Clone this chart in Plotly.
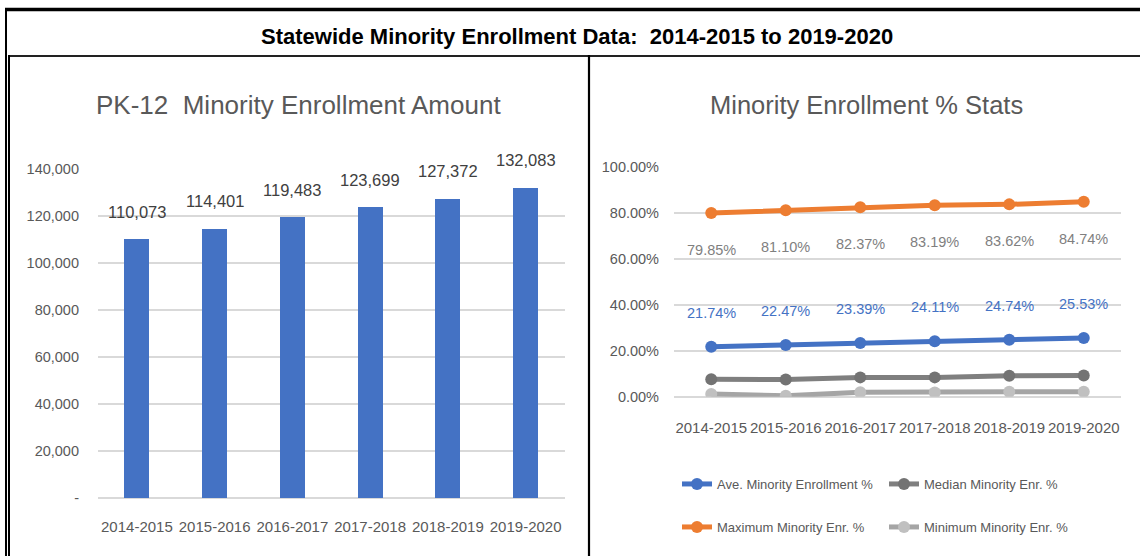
import plotly.graph_objects as go

W, H = 1140, 556

years = ["2014-2015", "2015-2016", "2016-2017", "2017-2018", "2018-2019", "2019-2020"]
enrollment = [110073, 114401, 119483, 123699, 127372, 132083]
enroll_tickvals = [0, 20000, 40000, 60000, 80000, 100000, 120000, 140000]
enroll_ticktext = ["-", "20,000", "40,000", "60,000", "80,000", "100,000", "120,000", "140,000"]

avg_pct = [21.74, 22.47, 23.39, 24.11, 24.74, 25.53]
median_pct = [7.6, 7.5, 8.4, 8.4, 9.1, 9.2]
max_pct = [79.85, 81.10, 82.37, 83.19, 83.62, 84.74]
min_pct = [1.2, 0.4, 1.9, 1.8, 2.2, 2.2]
pct_tickvals = [0, 20, 40, 60, 80, 100]
pct_ticktext = ["0.00%", "20.00%", "40.00%", "60.00%", "80.00%", "100.00%"]

main_title = "Statewide Minority Enrollment Data:\u00a0 2014-2015 to 2019-2020"
left_title = "PK-12\u00a0 Minority Enrollment Amount"
right_title = "Minority Enrollment % Stats"

FONT = "Liberation Sans, Arial, sans-serif"
GRAY = "#595959"


def px(x):
    return x / W


def py(y):
    return 1 - y / H


fig = go.Figure()

fig.add_trace(go.Bar(
    x=years, y=enrollment, xaxis="x", yaxis="y",
    marker=dict(color="#4472C4", line=dict(width=0)), width=0.32,
    showlegend=False, hoverinfo="x+y",
))

series = [
    ("Ave. Minority Enrollment %", avg_pct, "#4472C4", "#4472C4", "legend"),
    ("Median Minority Enr. %", median_pct, "#7F7F7F", "#737373", "legend2"),
    ("Maximum Minority Enr. %", max_pct, "#ED7D31", "#ED7D31", "legend3"),
    ("Minimum Minority Enr. %", min_pct, "#A5A5A5", "#C0C0C0", "legend4"),
]
for name, vals, lc, mc, lg in series:
    fig.add_trace(go.Scatter(
        x=years, y=vals, xaxis="x2", yaxis="y2", name=name,
        mode="lines+markers",
        line=dict(color=lc, width=5),
        marker=dict(color=mc, size=12),
        legend=lg,
    ))

annotations = []
for x, v in zip(years, enrollment):
    annotations.append(dict(
        x=x, y=v, xref="x", yref="y", text=f"{v:,}", showarrow=False,
        yanchor="middle", yshift=28,
        font=dict(family=FONT, size=16.5, color="#404040"),
    ))
for x, v in zip(years, max_pct):
    annotations.append(dict(
        x=x, y=v, xref="x2", yref="y2", text=f"{v:.2f}%", showarrow=False,
        yanchor="middle", yshift=-37,
        font=dict(family=FONT, size=14.5, color="#7F7F7F"),
    ))
for x, v in zip(years, avg_pct):
    annotations.append(dict(
        x=x, y=v, xref="x2", yref="y2", text=f"{v:.2f}%", showarrow=False,
        yanchor="middle", yshift=34,
        font=dict(family=FONT, size=14.5, color="#4472C4"),
    ))

annotations += [
    dict(x=px(577), y=py(36), xref="paper", yref="paper", text=f"<b>{main_title}</b>",
         showarrow=False, xanchor="center", yanchor="middle",
         font=dict(family=FONT, size=22, color="#000000")),
    dict(x=px(298), y=py(105), xref="paper", yref="paper", text=left_title,
         showarrow=False, xanchor="center", yanchor="middle",
         font=dict(family=FONT, size=26, color=GRAY)),
    dict(x=px(866), y=py(105), xref="paper", yref="paper", text=right_title,
         showarrow=False, xanchor="center", yanchor="middle",
         font=dict(family=FONT, size=25.5, color=GRAY)),
]


def hline(y, x0, x1, w, c="#000000"):
    return dict(type="line", xref="paper", yref="paper", x0=px(x0), x1=px(x1),
                y0=py(y), y1=py(y), line=dict(color=c, width=w))


def vline(x, y0, y1, w, c="#000000"):
    return dict(type="line", xref="paper", yref="paper", x0=px(x), x1=px(x),
                y0=py(y0), y1=py(y1), line=dict(color=c, width=w))


shapes = [
    hline(9.5, 5, 1140, 3.5),
    vline(6, 8, 556, 2),
    hline(56, 8, 1140, 2.2, "#222222"),
    vline(9, 55, 556, 2),
    vline(589, 55, 556, 2.2),
]

legend_common = dict(
    orientation="h", xanchor="left", yanchor="middle", bgcolor="rgba(0,0,0,0)",
    font=dict(family=FONT, size=13, color=GRAY), itemwidth=30,
)

fig.update_layout(
    width=W, height=H,
    margin=dict(l=0, r=0, t=0, b=0, autoexpand=False),
    paper_bgcolor="white", plot_bgcolor="white",
    font=dict(family=FONT, color=GRAY),
    xaxis=dict(domain=[px(98), px(564.5)], anchor="y", type="category",
               range=[-0.5, 5.5], showgrid=False, showline=False, ticks="",
               tickangle=0,
               tickfont=dict(family=FONT, size=15, color=GRAY), ticklabelstandoff=18),
    yaxis=dict(domain=[py(498.3), py(169.3)], anchor="x", range=[0, 140000],
               tickvals=enroll_tickvals, ticktext=enroll_ticktext,
               gridcolor="#D9D9D9", gridwidth=2, zeroline=True, zerolinecolor="#D9D9D9",
               zerolinewidth=2, showline=False, ticks="",
               tickfont=dict(family=FONT, size=14.5, color=GRAY), ticklabelstandoff=18),
    xaxis2=dict(domain=[px(674), px(1121)], anchor="y2", type="category",
                range=[-0.5, 5.5], showgrid=False, showline=False, ticks="",
                tickangle=0,
                tickfont=dict(family=FONT, size=15, color=GRAY), ticklabelstandoff=20),
    yaxis2=dict(domain=[py(396.7), py(166.7)], anchor="x2", range=[0, 100],
                tickvals=pct_tickvals, ticktext=pct_ticktext,
                gridcolor="#D9D9D9", gridwidth=2, zeroline=True, zerolinecolor="#D9D9D9",
                zerolinewidth=2, showline=False, ticks="",
                tickfont=dict(family=FONT, size=14.5, color=GRAY), ticklabelstandoff=14),
    legend=dict(x=px(677), y=py(484), **legend_common),
    legend2=dict(x=px(884), y=py(484), **legend_common),
    legend3=dict(x=px(677), y=py(527), **legend_common),
    legend4=dict(x=px(884), y=py(527), **legend_common),
    annotations=annotations,
    shapes=shapes,
    bargap=0,
)

fig.write_html("out.html", config={"displayModeBar": False},
               post_script="document.body.style.margin='0';")
